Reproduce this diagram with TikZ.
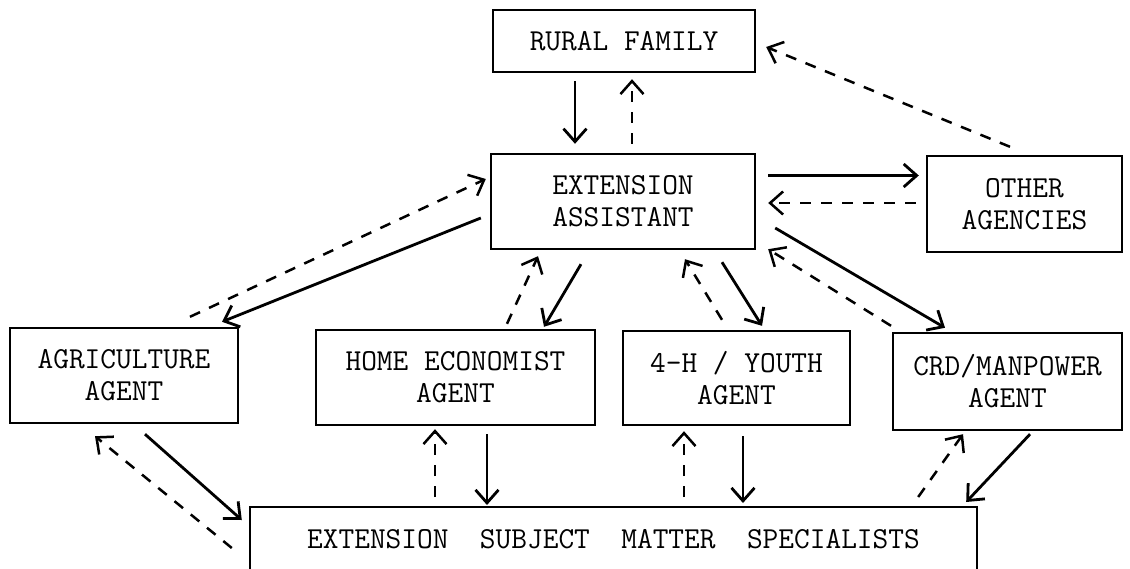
\documentclass[tikz,border=0pt]{standalone}
\usetikzlibrary{arrows.meta}

\begin{document}
\begin{tikzpicture}[
  x=1pt, y=1pt,
  >={Straight Barb[length=13pt,width=23pt]},
  office/.style={draw=black, line width=2.4pt, align=center,
                 font=\ttfamily\fontsize{30.5}{32}\selectfont, inner sep=0pt},
  flow/.style={->, line width=2.8pt, draw=black},
  reply/.style={->, line width=2.5pt, draw=black,
                dash pattern=on 11pt off 10pt},
]
\useasboundingbox (0,0) rectangle (1130,568);
\fill[white] (0,0) rectangle (1130,568);
\clip (0,0) rectangle (1130,568);

\node[office, minimum width=262pt, minimum height=62pt] (rural) at (624,527)
  {RURAL FAMILY};
\node[office, minimum width=264pt, minimum height=95pt] (assist) at (623,366.5)
  {EXTENSION\\ASSISTANT};
\node[office, minimum width=195pt, minimum height=96pt] (other) at (1024.5,364)
  {OTHER\\AGENCIES};

\node[office, minimum width=228pt, minimum height=95pt] (agri) at (124,192.5)
  {AGRICULTURE\\AGENT};
\node[office, minimum width=279pt, minimum height=95pt] (home) at (455.5,190.5)
  {HOME ECONOMIST\\AGENT};
\node[office, minimum width=227pt, minimum height=94pt] (youth) at (736.5,190)
  {4-H / YOUTH\\AGENT};
\node[office, minimum width=229pt, minimum height=97pt] (crd) at (1007.5,186.5)
  {CRD/MANPOWER\\AGENT};

\node[office, anchor=north, minimum width=727pt,
      text height=41pt, text depth=60pt] (sms) at (613.5,62)
  {EXTENSION\ \ SUBJECT\ \ MATTER\ \ SPECIALISTS};

% rural family and extension assistant
\draw[flow] ([xshift=-49pt,yshift=-8pt]rural.south) -- ([xshift=-48pt,yshift=9pt]assist.north);
\draw[reply] ([xshift=9pt,yshift=9pt]assist.north) -- ([xshift=8pt,yshift=-6pt]rural.south);
\draw[reply] ([xshift=-14.5pt,yshift=8pt]other.north) -- ([xshift=10pt,yshift=-6pt]rural.east);

% other agencies
\draw[flow] ([xshift=12pt,yshift=26pt]assist.east) -- ([xshift=-7pt,yshift=28.5pt]other.west);
\draw[reply] ([xshift=-10pt,yshift=1pt]other.west) -- ([xshift=12pt,yshift=-1.5pt]assist.east);

% assistant and the agents
\draw[reply] ([xshift=66pt,yshift=10pt]agri.north) -- ([xshift=-4pt,yshift=22.5pt]assist.west);
\draw[flow] ([xshift=-9pt,yshift=-16.5pt]assist.west) -- ([xshift=98pt,yshift=5pt]agri.north);
\draw[reply] ([xshift=51.5pt,yshift=5pt]home.north) -- ([xshift=-85pt,yshift=-6pt]assist.south);
\draw[flow] ([xshift=-42pt,yshift=-14pt]assist.south) -- ([xshift=88.5pt,yshift=2pt]home.north);
\draw[reply] ([xshift=-14.5pt,yshift=10pt]youth.north) -- ([xshift=62pt,yshift=-9pt]assist.south);
\draw[flow] ([xshift=99pt,yshift=-12pt]assist.south) -- ([xshift=25.5pt,yshift=4pt]youth.north);
\draw[reply] ([xshift=-116.5pt,yshift=6pt]crd.north) -- ([xshift=12pt,yshift=1pt]assist.south east);
\draw[flow] ([xshift=19pt,yshift=-26.5pt]assist.east) -- ([xshift=-62.5pt,yshift=4pt]crd.north);

% agents and the specialists
\draw[flow] ([xshift=21pt,yshift=-10pt]agri.south) -- ([xshift=-7pt,yshift=-14pt]sms.north west);
\draw[reply] ([xshift=-17pt,yshift=-42pt]sms.north west) -- ([xshift=-29pt,yshift=-12pt]agri.south);
\draw[reply] ([xshift=-178.5pt,yshift=9pt]sms.north) -- ([xshift=-20.5pt,yshift=-3pt]home.south);
\draw[flow] ([xshift=31.5pt,yshift=-8pt]home.south) -- ([xshift=-126.5pt,yshift=1pt]sms.north);
\draw[reply] ([xshift=70.5pt,yshift=9pt]sms.north) -- ([xshift=-52.5pt,yshift=-5pt]youth.south);
\draw[flow] ([xshift=6.5pt,yshift=-10pt]youth.south) -- ([xshift=129.5pt,yshift=3pt]sms.north);
\draw[reply] ([xshift=-60pt,yshift=9pt]sms.north east) -- ([xshift=-44.5pt,yshift=-3pt]crd.south);
\draw[flow] ([xshift=22.5pt,yshift=-3pt]crd.south) -- ([xshift=-12pt,yshift=4pt]sms.north east);
\end{tikzpicture}
\end{document}
